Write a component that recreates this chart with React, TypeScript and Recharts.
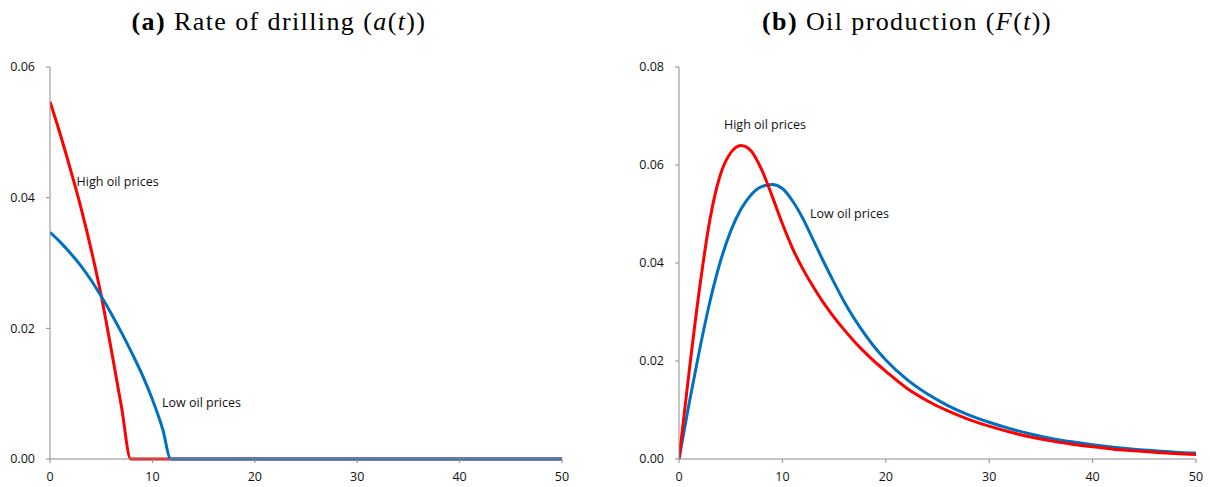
import React from 'react';
import { LineChart, Line, XAxis, YAxis, ReferenceDot } from 'recharts';

// panel (a): rate of drilling a(t)
const drillHighT = [0, 1, 2, 3, 4, 5, 6, 7, 7.88, 50];
const drillHighA = [0.0547, 0.0497, 0.0443, 0.0386, 0.0322, 0.025, 0.0166, 0.0078, 0, 0];
const drillLowT = [0, 1, 2, 3, 4, 5, 6, 7, 8, 9, 10, 11, 11.8, 50];
const drillLowA = [0.0347, 0.0332, 0.0315, 0.0296, 0.0274, 0.0249, 0.0222, 0.0193, 0.0162, 0.0129, 0.0091, 0.0046, 0, 0];

// panel (b): oil production F(t)
const prodT = [0, 1, 2, 3, 4, 5, 6, 7, 8, 9, 10, 11, 12, 13, 14, 15, 16, 17, 18, 19, 20,
  22, 24, 26, 28, 30, 32, 34, 36, 38, 40, 42, 44, 46, 48, 50];
const prodHigh = [0, 0.0182, 0.035, 0.049, 0.058, 0.0625, 0.064, 0.0628, 0.059, 0.0537, 0.048,
  0.0429, 0.0387, 0.0351, 0.0318, 0.0289, 0.0263, 0.0239, 0.0217, 0.0197, 0.0179,
  0.0145, 0.0119, 0.0098, 0.0081, 0.0067, 0.0055, 0.0045, 0.0037, 0.003, 0.0025, 0.002, 0.0017, 0.0014, 0.0011, 0.0009];
const prodLow = [0, 0.0116, 0.0224, 0.0322, 0.0403, 0.0465, 0.051, 0.054, 0.0556, 0.056, 0.0552,
  0.0526, 0.049, 0.0446, 0.0402, 0.036, 0.032, 0.0285, 0.0254, 0.0226, 0.0202,
  0.0163, 0.0133, 0.0109, 0.009, 0.0075, 0.0062, 0.0051, 0.0042, 0.0035, 0.0029, 0.0024, 0.002, 0.0017, 0.0014, 0.0012];

const xTicks = [0, 10, 20, 30, 40, 50];
const drillTicks = [0, 0.02, 0.04, 0.06];
const prodTicks = [0, 0.02, 0.04, 0.06, 0.08];

const drillNotes = [
  { t: 2.6, v: 0.0425, text: 'High oil prices' },
  { t: 10.94, v: 0.0086, text: 'Low oil prices' },
];
const prodNotes = [
  { t: 4.35, v: 0.0682, text: 'High oil prices' },
  { t: 12.67, v: 0.05, text: 'Low oil prices' },
];

const toRows = (ts: number[], vs: number[]) => ts.map((t, i) => ({ t, v: vs[i] }));

const RED = '#ff0000';
const BLUE = '#0070c0';
const AXIS = '#8c8c8c';
const FONT = '"Open Sans", sans-serif';
const tickStyle = { fontFamily: FONT, fontSize: 12.5, fill: '#111' };

const titleStyle: React.CSSProperties = {
  position: 'absolute',
  top: 9,
  fontFamily: '"Liberation Serif", serif',
  fontSize: 26,
  lineHeight: '26px',
  letterSpacing: 1.4,
  textAlign: 'center',
  color: '#000',
  whiteSpace: 'nowrap',
};

const notes = (list: { t: number; v: number; text: string }[]) =>
  list.map((n) => (
    <ReferenceDot
      key={n.text}
      x={n.t}
      y={n.v}
      r={0}
      fill="none"
      stroke="none"
      label={{ value: n.text, position: 'right', offset: 0, fontFamily: FONT, fontSize: 12.5, fill: '#111' }}
    />
  ));

const App: React.FC = () => {
  return (
    <div style={{ position: 'relative', width: 1210, height: 487, background: '#fff' }}>
      <style>{'body{margin:0}'}</style>

      <div style={{ ...titleStyle, left: 0, width: 558 }}>
        <b>(a)</b> Rate of drilling (<i>a</i>(<i>t</i>))
      </div>
      <div style={{ ...titleStyle, left: 600, width: 614 }}>
        <b>(b)</b> Oil production (<i>F</i>(<i>t</i>))
      </div>

      {/* left panel */}
      <div style={{ position: 'absolute', left: 0, top: 0 }}>
        <LineChart width={600} height={487} margin={{ top: 67, right: 38, bottom: 0, left: 0 }}>
          <XAxis
            dataKey="t"
            type="number"
            domain={[0, 50]}
            ticks={xTicks}
            height={28}
            stroke={AXIS}
            tickSize={4}
            tickMargin={9}
            tick={tickStyle}
            allowDataOverflow
          />
          <YAxis
            type="number"
            domain={[0, 0.06]}
            ticks={drillTicks}
            width={50}
            stroke={AXIS}
            tickSize={4}
            tickMargin={11}
            tick={tickStyle}
            tickFormatter={(v: number) => v.toFixed(2)}
          />
          <Line data={toRows(drillHighT, drillHighA)} dataKey="v" type="monotone" stroke={RED} strokeWidth={3} dot={false} isAnimationActive={false} />
          <Line data={toRows(drillLowT, drillLowA)} dataKey="v" type="monotone" stroke={BLUE} strokeWidth={3} dot={false} isAnimationActive={false} />
          {notes(drillNotes)}
        </LineChart>
      </div>

      {/* right panel */}
      <div style={{ position: 'absolute', left: 600, top: 0 }}>
        <LineChart width={610} height={487} margin={{ top: 67, right: 14, bottom: 0, left: 0 }}>
          <XAxis
            dataKey="t"
            type="number"
            domain={[0, 50]}
            ticks={xTicks}
            height={28}
            stroke={AXIS}
            tickSize={4}
            tickMargin={9}
            tick={tickStyle}
            allowDataOverflow
          />
          <YAxis
            type="number"
            domain={[0, 0.08]}
            ticks={prodTicks}
            width={79}
            stroke={AXIS}
            tickSize={4}
            tickMargin={11}
            tick={tickStyle}
            tickFormatter={(v: number) => v.toFixed(2)}
          />
          <Line data={toRows(prodT, prodLow)} dataKey="v" type="monotone" stroke={BLUE} strokeWidth={3} dot={false} isAnimationActive={false} />
          <Line data={toRows(prodT, prodHigh)} dataKey="v" type="monotone" stroke={RED} strokeWidth={3} dot={false} isAnimationActive={false} />
          {notes(prodNotes)}
        </LineChart>
      </div>
    </div>
  );
};

export default App;
